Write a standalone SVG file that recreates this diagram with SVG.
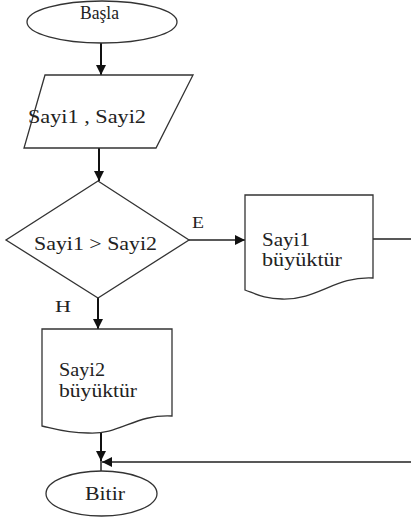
<svg xmlns="http://www.w3.org/2000/svg" width="411" height="520" viewBox="0 0 411 520">
<style>
  .shape { fill: #ffffff; stroke: #333333; stroke-width: 1.3; }
  .txt { font-family: "Liberation Serif", "Times New Roman", serif; font-size: 19px; fill: #222222; }
  .lbl { font-family: "Liberation Serif", "Times New Roman", serif; font-size: 17px; fill: #222222; }
  .conn { fill: none; stroke: #111111; stroke-width: 2; }
  .conn2 { fill: none; stroke: #222222; stroke-width: 1.5; }
</style>
<defs>
  <marker id="arrow" viewBox="0 0 10 10" refX="10" refY="5" markerWidth="10" markerHeight="10" markerUnits="userSpaceOnUse" orient="auto">
    <path d="M0,0 L10,5 L0,10 Z" fill="#111111"/>
  </marker>
</defs>
<rect width="411" height="520" fill="#ffffff"/>

<g id="connectors">
  <line class="conn" x1="101" y1="43" x2="101" y2="75" marker-end="url(#arrow)"/>
  <line class="conn" x1="99" y1="148" x2="99" y2="181" marker-end="url(#arrow)"/>
  <line class="conn2" x1="189" y1="240" x2="245" y2="240" marker-end="url(#arrow)"/>
  <line class="conn" x1="98" y1="298" x2="98" y2="329" marker-end="url(#arrow)"/>
  <line class="conn" x1="101" y1="433" x2="101" y2="461" marker-end="url(#arrow)"/>
  <line class="conn2" x1="101" y1="461" x2="101" y2="471"/>
  <polyline class="conn2" points="373,239 416,239 416,462 102,462" marker-end="url(#arrow)"/>
  <text class="lbl" x="192" y="228" textLength="12" lengthAdjust="spacingAndGlyphs">E</text>
  <text class="lbl" x="55" y="312" textLength="16" lengthAdjust="spacingAndGlyphs">H</text>
</g>

<g id="start">
  <ellipse class="shape" cx="102" cy="22" rx="75" ry="21"/>
  <text class="txt" x="80" y="19" font-size="18" textLength="39" lengthAdjust="spacingAndGlyphs">Başla</text>
</g>

<g id="input">
  <polygon class="shape" points="45,75 193,75 156,148 24,148"/>
  <text class="txt" x="28" y="123" textLength="118" lengthAdjust="spacingAndGlyphs">Sayi1 , Sayi2</text>
</g>

<g id="decision">
  <polygon class="shape" points="98,181 189,240 98,298 6,240"/>
  <text class="txt" x="34" y="250" textLength="123" lengthAdjust="spacingAndGlyphs">Sayi1 &gt; Sayi2</text>
</g>

<g id="out1">
  <path class="shape" d="M245,195 H373 V278 C335,276 318,300 282,299 C265,299 256,294 245,290 Z"/>
  <text class="txt" x="262" y="246" textLength="48" lengthAdjust="spacingAndGlyphs">Sayi1</text>
  <text class="txt" x="262" y="266" textLength="80" lengthAdjust="spacingAndGlyphs">büyüktür</text>
</g>

<g id="out2">
  <path class="shape" d="M42,329 H172 V416 C135,414 120,435 88,433 C66,433 55,429 42,426 Z"/>
  <text class="txt" x="59" y="376" textLength="46" lengthAdjust="spacingAndGlyphs">Sayi2</text>
  <text class="txt" x="59" y="397" textLength="78" lengthAdjust="spacingAndGlyphs">büyüktür</text>
</g>

<g id="end">
  <ellipse class="shape" cx="101.5" cy="493.5" rx="55.5" ry="22.5"/>
  <text class="txt" x="85" y="500" textLength="40" lengthAdjust="spacingAndGlyphs">Bitir</text>
</g>
</svg>
